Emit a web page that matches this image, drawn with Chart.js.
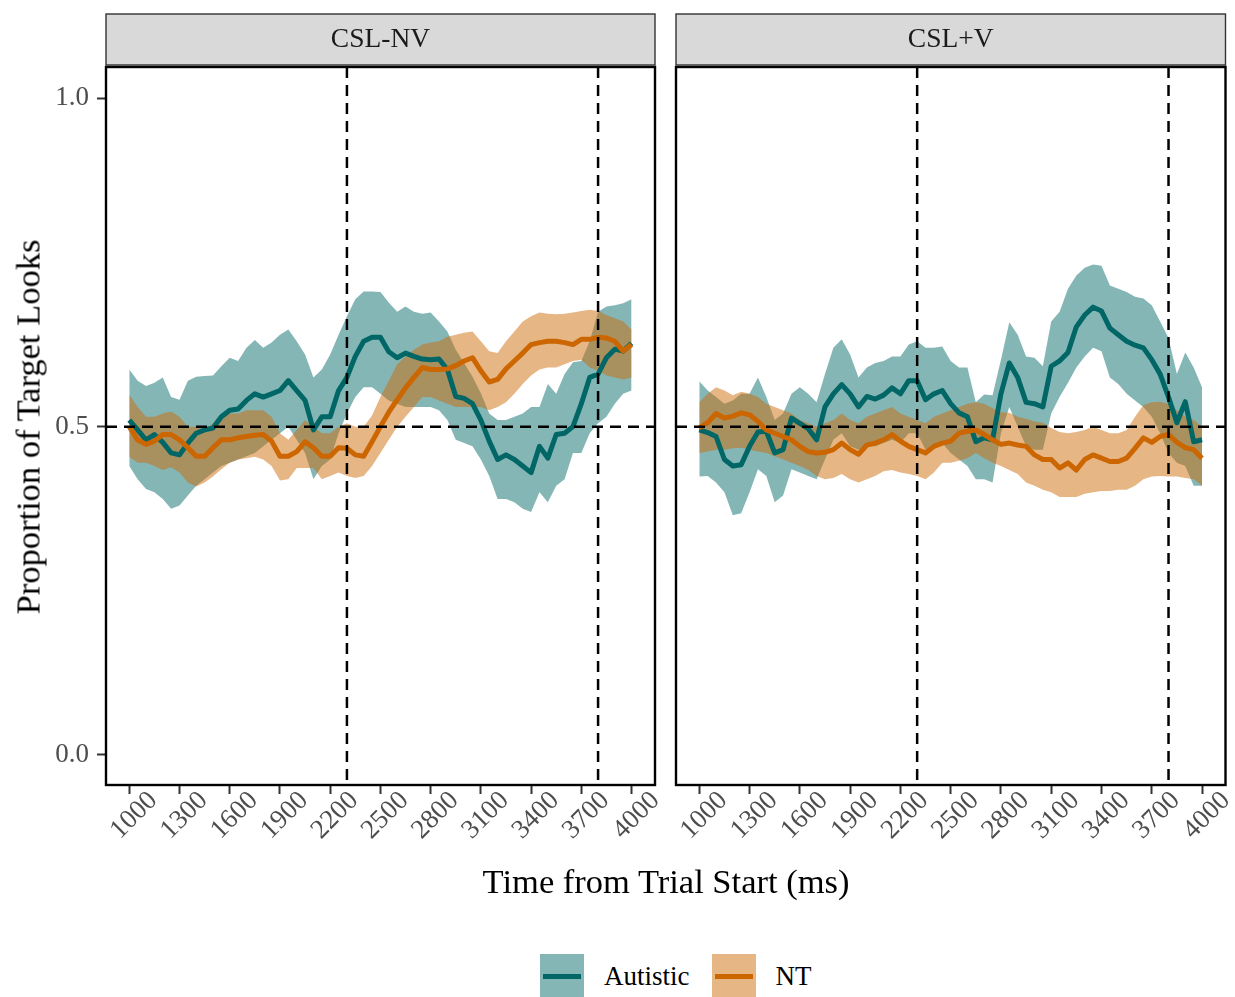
<!DOCTYPE html>
<html>
<head>
<meta charset="utf-8">
<script src="https://cdn.jsdelivr.net/npm/chart.js@4.4.1/dist/chart.umd.min.js"></script>
<style>
  body { margin: 0; background: #fff; }
  #wrap { position: relative; width: 1235px; height: 997px; overflow: hidden; font-family: "Liberation Serif", "Times New Roman", serif; }
  .panel { position: absolute; top: 0; height: 870px; }
  #left { left: 0; width: 660px; }
  #right { left: 670px; width: 565px; }
  #ytitle { position: absolute; left: 28px; top: 427px; transform: translate(-50%, -50%) rotate(-90deg); font-size: 34.5px; white-space: nowrap; color: #000; }
  #xtitle { position: absolute; left: 666px; top: 881px; transform: translate(-50%, -50%); font-size: 34.5px; white-space: nowrap; color: #000; }
  #legend { position: absolute; left: 540px; top: 954px; height: 44px; display: flex; align-items: center; font-size: 27px; color: #000; }
  .key { width: 44px; height: 44px; position: relative; }
  .key span { position: absolute; left: 3px; right: 3px; top: 20px; height: 5px; }
  .lab { margin-left: 20px; margin-right: 22px; }
</style>
</head>
<body>
<div id="wrap">
  <canvas id="left" class="panel" width="660" height="870"></canvas>
  <canvas id="right" class="panel" width="565" height="870"></canvas>
  <div id="ytitle">Proportion of Target Looks</div>
  <div id="xtitle">Time from Trial Start (ms)</div>
  <div id="legend">
    <div class="key" style="background: rgba(0,102,102,0.48)"><span style="background:#006666"></span></div>
    <div class="lab">Autistic</div>
    <div class="key" style="background: rgba(204,102,0,0.48)"><span style="background:#CC6600"></span></div>
    <div class="lab">NT</div>
  </div>
</div>
<script>
// time bins (ms)
const timeMs = [
  1000, 1050, 1100, 1150, 1200, 1250, 1300, 1350, 1400, 1450,
  1500, 1550, 1600, 1650, 1700, 1750, 1800, 1850, 1900, 1950,
  2000, 2050, 2100, 2150, 2200, 2250, 2300, 2350, 2400, 2450,
  2500, 2550, 2600, 2650, 2700, 2750, 2800, 2850, 2900, 2950,
  3000, 3050, 3100, 3150, 3200, 3250, 3300, 3350, 3400, 3450,
  3500, 3550, 3600, 3650, 3700, 3750, 3800, 3850, 3900, 3950,
  4000
];
const xTicks = [1000, 1300, 1600, 1900, 2200, 2500, 2800, 3100, 3400, 3700, 4000];
const yTicks = [0, 0.5, 1];
const markerTimes = [2300, 3800];
const chanceLevel = 0.5;
const panelNames = ['CSL-NV', 'CSL+V'];
const groupNames = ['Autistic', 'NT'];

// CSL-NV, Autistic
const nvAutMean = [
  0.51, 0.495, 0.48, 0.488, 0.476, 0.46, 0.457, 0.475, 0.49, 0.495,
  0.498, 0.515, 0.525, 0.527, 0.54, 0.55, 0.545, 0.55, 0.555, 0.57,
  0.555, 0.54, 0.495, 0.515, 0.515, 0.555, 0.575, 0.607, 0.63, 0.636,
  0.636, 0.614, 0.605, 0.612, 0.607, 0.603, 0.602, 0.603, 0.587, 0.546,
  0.543, 0.535, 0.51, 0.478, 0.45, 0.457, 0.45, 0.44, 0.43, 0.47,
  0.452, 0.488, 0.49, 0.5, 0.535, 0.575, 0.58, 0.605, 0.618, 0.615,
  0.627
];
const nvAutLo = [
  0.44, 0.42, 0.405, 0.40, 0.39, 0.375, 0.38, 0.395, 0.41, 0.42,
  0.43, 0.44, 0.445, 0.45, 0.455, 0.46, 0.47, 0.48, 0.49, 0.50,
  0.48, 0.46, 0.42, 0.44, 0.45, 0.49, 0.52, 0.545, 0.56, 0.56,
  0.55, 0.54, 0.535, 0.53, 0.53, 0.53, 0.53, 0.525, 0.51, 0.48,
  0.475, 0.47, 0.45, 0.425, 0.39, 0.39, 0.385, 0.375, 0.37, 0.40,
  0.385, 0.41, 0.42, 0.46, 0.46, 0.49, 0.505, 0.515, 0.535, 0.55,
  0.555
];
const nvAutHi = [
  0.587, 0.57, 0.562, 0.567, 0.575, 0.545, 0.541, 0.57, 0.576, 0.577,
  0.578, 0.592, 0.605, 0.60, 0.62, 0.632, 0.62, 0.628, 0.64, 0.648,
  0.63, 0.61, 0.575, 0.587, 0.61, 0.64, 0.668, 0.694, 0.706, 0.706,
  0.705, 0.689, 0.675, 0.683, 0.675, 0.672, 0.674, 0.66, 0.645, 0.617,
  0.597, 0.576, 0.551, 0.52, 0.51, 0.51, 0.515, 0.52, 0.53, 0.53,
  0.565, 0.55, 0.58, 0.598, 0.60, 0.63, 0.675, 0.683, 0.685, 0.688,
  0.694
];

// CSL-NV, NT
const nvNtMean = [
  0.50, 0.48, 0.473, 0.478, 0.488, 0.488, 0.48, 0.468, 0.455, 0.455,
  0.468, 0.48, 0.48, 0.483, 0.485, 0.487, 0.488, 0.478, 0.455, 0.455,
  0.462, 0.477, 0.468, 0.455, 0.455, 0.468, 0.467, 0.457, 0.455, 0.477,
  0.50, 0.522, 0.541, 0.559, 0.575, 0.59, 0.587, 0.587, 0.588, 0.593,
  0.60, 0.605, 0.585, 0.568, 0.572, 0.588, 0.60, 0.612, 0.625, 0.628,
  0.63, 0.63, 0.628, 0.625, 0.633, 0.633, 0.636, 0.635, 0.63, 0.615,
  0.625
];
const nvNtLo = [
  0.454, 0.445, 0.445, 0.44, 0.434, 0.438, 0.43, 0.415, 0.409, 0.415,
  0.424, 0.435, 0.445, 0.45, 0.452, 0.454, 0.45, 0.44, 0.418, 0.42,
  0.437, 0.437, 0.437, 0.42, 0.425, 0.43, 0.425, 0.422, 0.425, 0.44,
  0.46, 0.48, 0.50, 0.515, 0.53, 0.545, 0.545, 0.54, 0.535, 0.53,
  0.53, 0.53, 0.53, 0.525, 0.53, 0.537, 0.55, 0.565, 0.578, 0.587,
  0.59, 0.59, 0.595, 0.60, 0.602, 0.59, 0.585, 0.578, 0.575, 0.572,
  0.575
];
const nvNtHi = [
  0.549, 0.53, 0.515, 0.515, 0.52, 0.523, 0.515, 0.50, 0.50, 0.495,
  0.505, 0.52, 0.52, 0.52, 0.525, 0.525, 0.525, 0.515, 0.49, 0.48,
  0.495, 0.51, 0.50, 0.49, 0.49, 0.50, 0.505, 0.50, 0.50, 0.517,
  0.545, 0.57, 0.595, 0.607, 0.617, 0.625, 0.628, 0.63, 0.637, 0.64,
  0.643, 0.645, 0.63, 0.615, 0.612, 0.63, 0.645, 0.66, 0.668, 0.674,
  0.672, 0.671, 0.672, 0.674, 0.676, 0.678, 0.676, 0.67, 0.665, 0.66,
  0.648
];

// CSL+V, Autistic
const cvAutMean = [
  0.495, 0.491, 0.485, 0.45, 0.44, 0.442, 0.47, 0.492, 0.493, 0.46,
  0.465, 0.513, 0.505, 0.497, 0.48, 0.53, 0.55, 0.564, 0.55, 0.53,
  0.546, 0.542, 0.548, 0.559, 0.55, 0.57, 0.57, 0.541, 0.55, 0.555,
  0.535, 0.521, 0.515, 0.477, 0.483, 0.48, 0.55, 0.597, 0.575, 0.537,
  0.535, 0.53, 0.592, 0.60, 0.613, 0.652, 0.67, 0.682, 0.676, 0.65,
  0.64, 0.63, 0.624, 0.62, 0.602, 0.58, 0.545, 0.506, 0.538, 0.477,
  0.48
];
const cvAutLo = [
  0.424, 0.425, 0.415, 0.40, 0.365, 0.368, 0.40, 0.435, 0.425, 0.385,
  0.395, 0.435, 0.43, 0.425, 0.42, 0.45, 0.48, 0.49, 0.47, 0.465,
  0.47, 0.47, 0.475, 0.48, 0.475, 0.49, 0.49, 0.465, 0.47, 0.475,
  0.46, 0.45, 0.44, 0.42, 0.42, 0.415, 0.49, 0.53, 0.50, 0.47,
  0.465, 0.465, 0.52, 0.545, 0.567, 0.59, 0.607, 0.62, 0.615, 0.575,
  0.565, 0.55, 0.54, 0.53, 0.515, 0.49, 0.46, 0.445, 0.44, 0.41,
  0.41
];
const cvAutHi = [
  0.569, 0.555, 0.545, 0.535, 0.54, 0.55, 0.55, 0.575, 0.545, 0.51,
  0.52, 0.55, 0.56, 0.55, 0.537, 0.58, 0.62, 0.633, 0.61, 0.575,
  0.59, 0.597, 0.60, 0.607, 0.607, 0.625, 0.63, 0.62, 0.62, 0.622,
  0.60, 0.59, 0.59, 0.537, 0.549, 0.548, 0.602, 0.659, 0.64, 0.607,
  0.605, 0.592, 0.66, 0.675, 0.71, 0.73, 0.742, 0.747, 0.745, 0.715,
  0.71, 0.705, 0.698, 0.695, 0.685, 0.66, 0.635, 0.58, 0.613, 0.59,
  0.56
];

// CSL+V, NT
const cvNtMean = [
  0.498, 0.506, 0.52, 0.513, 0.516, 0.521, 0.518, 0.508, 0.495, 0.49,
  0.485, 0.48, 0.47, 0.462, 0.46, 0.461, 0.465, 0.475, 0.465, 0.458,
  0.472, 0.475, 0.48, 0.488, 0.478, 0.47, 0.465, 0.46, 0.47, 0.475,
  0.478, 0.49, 0.493, 0.495, 0.488, 0.48, 0.473, 0.475, 0.472, 0.47,
  0.457, 0.45, 0.45, 0.437, 0.445, 0.434, 0.45, 0.457, 0.452, 0.447,
  0.447, 0.452, 0.467, 0.483, 0.476, 0.485, 0.488, 0.476, 0.468, 0.465,
  0.452
];
const cvNtLo = [
  0.46, 0.462, 0.465, 0.465, 0.467, 0.468, 0.465, 0.462, 0.46, 0.455,
  0.45, 0.445, 0.44, 0.434, 0.425, 0.42, 0.422, 0.428, 0.42, 0.415,
  0.42, 0.425, 0.432, 0.434, 0.43, 0.428, 0.425, 0.42, 0.43, 0.445,
  0.445, 0.448, 0.452, 0.46, 0.452, 0.445, 0.44, 0.434, 0.428, 0.415,
  0.41, 0.404, 0.40, 0.393, 0.393, 0.393, 0.398, 0.40, 0.402, 0.402,
  0.404, 0.404, 0.41, 0.42, 0.424, 0.425, 0.424, 0.424, 0.422, 0.42,
  0.41
];
const cvNtHi = [
  0.537, 0.55, 0.56, 0.555, 0.548, 0.553, 0.55, 0.545, 0.535, 0.53,
  0.525, 0.52, 0.51, 0.505, 0.50, 0.505, 0.51, 0.52, 0.51, 0.505,
  0.515, 0.52, 0.525, 0.53, 0.52, 0.515, 0.51, 0.505, 0.515, 0.52,
  0.525, 0.53, 0.535, 0.537, 0.535, 0.528, 0.522, 0.521, 0.515, 0.512,
  0.508, 0.506, 0.498, 0.492, 0.49, 0.492, 0.495, 0.50, 0.495, 0.49,
  0.49, 0.495, 0.515, 0.533, 0.537, 0.538, 0.535, 0.525, 0.515, 0.51,
  0.50
];

const TEAL = '#006666';
const TEAL_FILL = 'rgba(0,102,102,0.48)';
const ORANGE = '#CC6600';
const ORANGE_FILL = 'rgba(204,102,0,0.48)';
const SERIF = '"Liberation Serif", "Times New Roman", serif';

function pts(arr) {
  return timeMs.map((t, i) => ({ x: t, y: arr[i] }));
}

/* strip header, dashed reference lines and panel frame */
const facetDecor = {
  id: 'facetDecor',
  afterDatasetsDraw(chart) {
    const { ctx, chartArea: a, scales } = chart;
    ctx.save();
    ctx.beginPath();
    ctx.rect(a.left, a.top, a.right - a.left, a.bottom - a.top);
    ctx.clip();
    ctx.strokeStyle = '#000';
    ctx.lineWidth = 2.5;
    ctx.setLineDash([11, 7]);
    markerTimes.forEach((t) => {
      const px = scales.x.getPixelForValue(t);
      ctx.beginPath();
      ctx.moveTo(px, a.top);
      ctx.lineTo(px, a.bottom);
      ctx.stroke();
    });
    const py = scales.y.getPixelForValue(chanceLevel);
    ctx.beginPath();
    ctx.moveTo(a.left, py);
    ctx.lineTo(a.right, py);
    ctx.stroke();
    ctx.restore();
  },
  afterDraw(chart, args, opts) {
    const { ctx, chartArea: a } = chart;
    ctx.save();
    // strip
    ctx.fillStyle = '#D9D9D9';
    ctx.fillRect(a.left, 14, a.right - a.left, 51);
    ctx.strokeStyle = '#333333';
    ctx.lineWidth = 1.4;
    ctx.strokeRect(a.left, 14, a.right - a.left, 51);
    ctx.fillStyle = '#1A1A1A';
    ctx.font = '27.5px ' + SERIF;
    ctx.textAlign = 'center';
    ctx.textBaseline = 'middle';
    ctx.fillText(opts.label, (a.left + a.right) / 2, 40);
    // frame
    ctx.strokeStyle = '#000';
    ctx.lineWidth = 2.4;
    ctx.strokeRect(a.left, a.top, a.right - a.left, a.bottom - a.top);
    ctx.restore();
  }
};

function makePanel(id, label, autMean, autLo, autHi, ntMean, ntLo, ntHi, showY, pad) {
  const ctx = document.getElementById(id).getContext('2d');
  return new Chart(ctx, {
    type: 'line',
    data: {
      datasets: [
        { label: 'aut-lo', data: pts(autLo), borderWidth: 0, pointRadius: 0, fill: false, order: 6 },
        { label: 'aut-hi', data: pts(autHi), borderWidth: 0, pointRadius: 0, fill: '-1', backgroundColor: TEAL_FILL, order: 5 },
        { label: 'nt-lo', data: pts(ntLo), borderWidth: 0, pointRadius: 0, fill: false, order: 4 },
        { label: 'nt-hi', data: pts(ntHi), borderWidth: 0, pointRadius: 0, fill: '-1', backgroundColor: ORANGE_FILL, order: 3 },
        { label: groupNames[0], data: pts(autMean), borderColor: TEAL, borderWidth: 5, pointRadius: 0, fill: false, borderJoinStyle: 'round', order: 2 },
        { label: groupNames[1], data: pts(ntMean), borderColor: ORANGE, borderWidth: 5, pointRadius: 0, fill: false, borderJoinStyle: 'round', order: 1 }
      ]
    },
    options: {
      responsive: false,
      animation: false,
      devicePixelRatio: 1,
      layout: { padding: pad },
      elements: { line: { tension: 0 } },
      plugins: {
        legend: { display: false },
        tooltip: { enabled: false },
        facetDecor: { label: label }
      },
      scales: {
        x: {
          type: 'linear',
          min: 861,
          max: 4140,
          afterBuildTicks: (s) => { s.ticks = xTicks.map((v) => ({ value: v })); },
          afterFit: (s) => { s.height = 85; s.paddingLeft = 0; s.paddingRight = 0; },
          ticks: {
            autoSkip: false,
            minRotation: 45,
            maxRotation: 45,
            padding: -9,
            labelOffset: 24,
            color: '#4D4D4D',
            font: { family: SERIF, size: 27 },
            callback: (v) => String(v)
          },
          grid: { drawOnChartArea: false, drawTicks: true, tickLength: 9, tickWidth: 2, tickColor: '#333333' },
          border: { display: false }
        },
        y: {
          type: 'linear',
          display: showY,
          min: -0.0457,
          max: 1.0477,
          afterBuildTicks: (s) => { s.ticks = yTicks.map((v) => ({ value: v })); },
          afterFit: (s) => { s.width = showY ? 106 : 0; },
          ticks: {
            padding: 8,
            color: '#4D4D4D',
            font: { family: SERIF, size: 27 },
            callback: (v) => v.toFixed(1)
          },
          grid: { drawOnChartArea: false, drawTicks: true, tickLength: 9, tickWidth: 2, tickColor: '#333333' },
          border: { display: false }
        }
      }
    },
    plugins: [facetDecor]
  });
}

makePanel('left', panelNames[0], nvAutMean, nvAutLo, nvAutHi, nvNtMean, nvNtLo, nvNtHi, true,
  { top: 67, left: 0, right: 5, bottom: 0 });
makePanel('right', panelNames[1], cvAutMean, cvAutLo, cvAutHi, cvNtMean, cvNtLo, cvNtHi, false,
  { top: 67, left: 6, right: 9.5, bottom: 0 });
</script>
</body>
</html>
